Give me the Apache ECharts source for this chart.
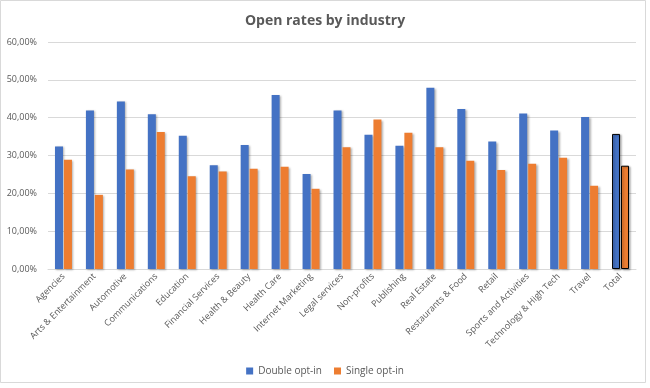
<!DOCTYPE html>
<html><head><meta charset="utf-8">
<script src="https://cdn.jsdelivr.net/npm/echarts@6/dist/echarts.min.js"></script>
<style>html,body{margin:0;padding:0;background:#fff}#c{width:650px;height:388px}</style>
</head><body><div id="c"></div>
<script>
const categories = ["Agencies","Arts & Entertainment","Automotive","Communications","Education","Financial Services","Health & Beauty","Health Care","Internet Marketing","Legal services","Non-profits","Publishing","Real Estate","Restaurants & Food","Retail","Sports and Activities","Technology & High Tech","Travel","Total"];
const doubleOptIn = [32.4,41.9,44.3,40.9,35.2,27.4,32.8,46.0,25.1,41.9,35.5,32.6,47.9,42.3,33.7,41.1,36.6,40.2,35.7];
const singleOptIn = [28.9,19.6,26.3,36.2,24.5,25.8,26.5,27.0,21.2,32.2,39.5,36.0,32.2,28.6,26.2,27.8,29.4,22.0,27.3];
const yTicks = [0,10,20,30,40,50,60];

function withTotalBorder(arr){
  return arr.map((v,i)=> i===categories.length-1 ? {value:v,itemStyle:{borderColor:'#000',borderWidth:1}} : v);
}
const chart = echarts.init(document.getElementById('c'));
const fontFam = '"Open Sans","Noto Sans",sans-serif';
chart.setOption({
  animation:false,
  backgroundColor:'#fff',
  title:{text:'Open rates by industry',left:'center',top:9,textStyle:{fontFamily:fontFam,fontSize:14,fontWeight:'bold',color:'#595959'}},
  legend:{bottom:7,left:'center',itemWidth:7,itemHeight:7,itemGap:12,icon:'rect',textStyle:{fontFamily:fontFam,fontSize:10,color:'#595959'},data:['Double opt-in','Single opt-in']},
  grid:{left:48,right:14,top:42,bottom:119},
  xAxis:{type:'category',data:categories,
    axisLine:{lineStyle:{color:'#d9d9d9'}},axisTick:{show:false},
    axisLabel:{interval:0,rotate:45,fontFamily:fontFam,fontSize:9,color:'#595959',margin:6}},
  yAxis:{type:'value',min:yTicks[0],max:yTicks[yTicks.length-1],interval:10,
    axisLine:{show:false},axisTick:{show:false},
    splitLine:{lineStyle:{color:'#d9d9d9'}},
    axisLabel:{fontFamily:fontFam,fontSize:9,color:'#595959',margin:11,formatter:v=>v.toFixed(2).replace('.',',')+'%'}},
  series:[
    {name:'Double opt-in',type:'bar',data:withTotalBorder(doubleOptIn),barWidth:8,barGap:'12%',
     itemStyle:{color:'#4472C4',shadowColor:'rgba(0,0,0,0.3)',shadowBlur:2,shadowOffsetX:1.5,shadowOffsetY:1}},
    {name:'Single opt-in',type:'bar',data:withTotalBorder(singleOptIn),barWidth:8,
     itemStyle:{color:'#ED7D31',shadowColor:'rgba(0,0,0,0.3)',shadowBlur:2,shadowOffsetX:1.5,shadowOffsetY:1}}
  ],
  graphic:[{type:'rect',shape:{x:0.5,y:0.5,width:645,height:382},style:{fill:null,stroke:'#d9d9d9',lineWidth:1},silent:true}]
});
</script></body></html>
